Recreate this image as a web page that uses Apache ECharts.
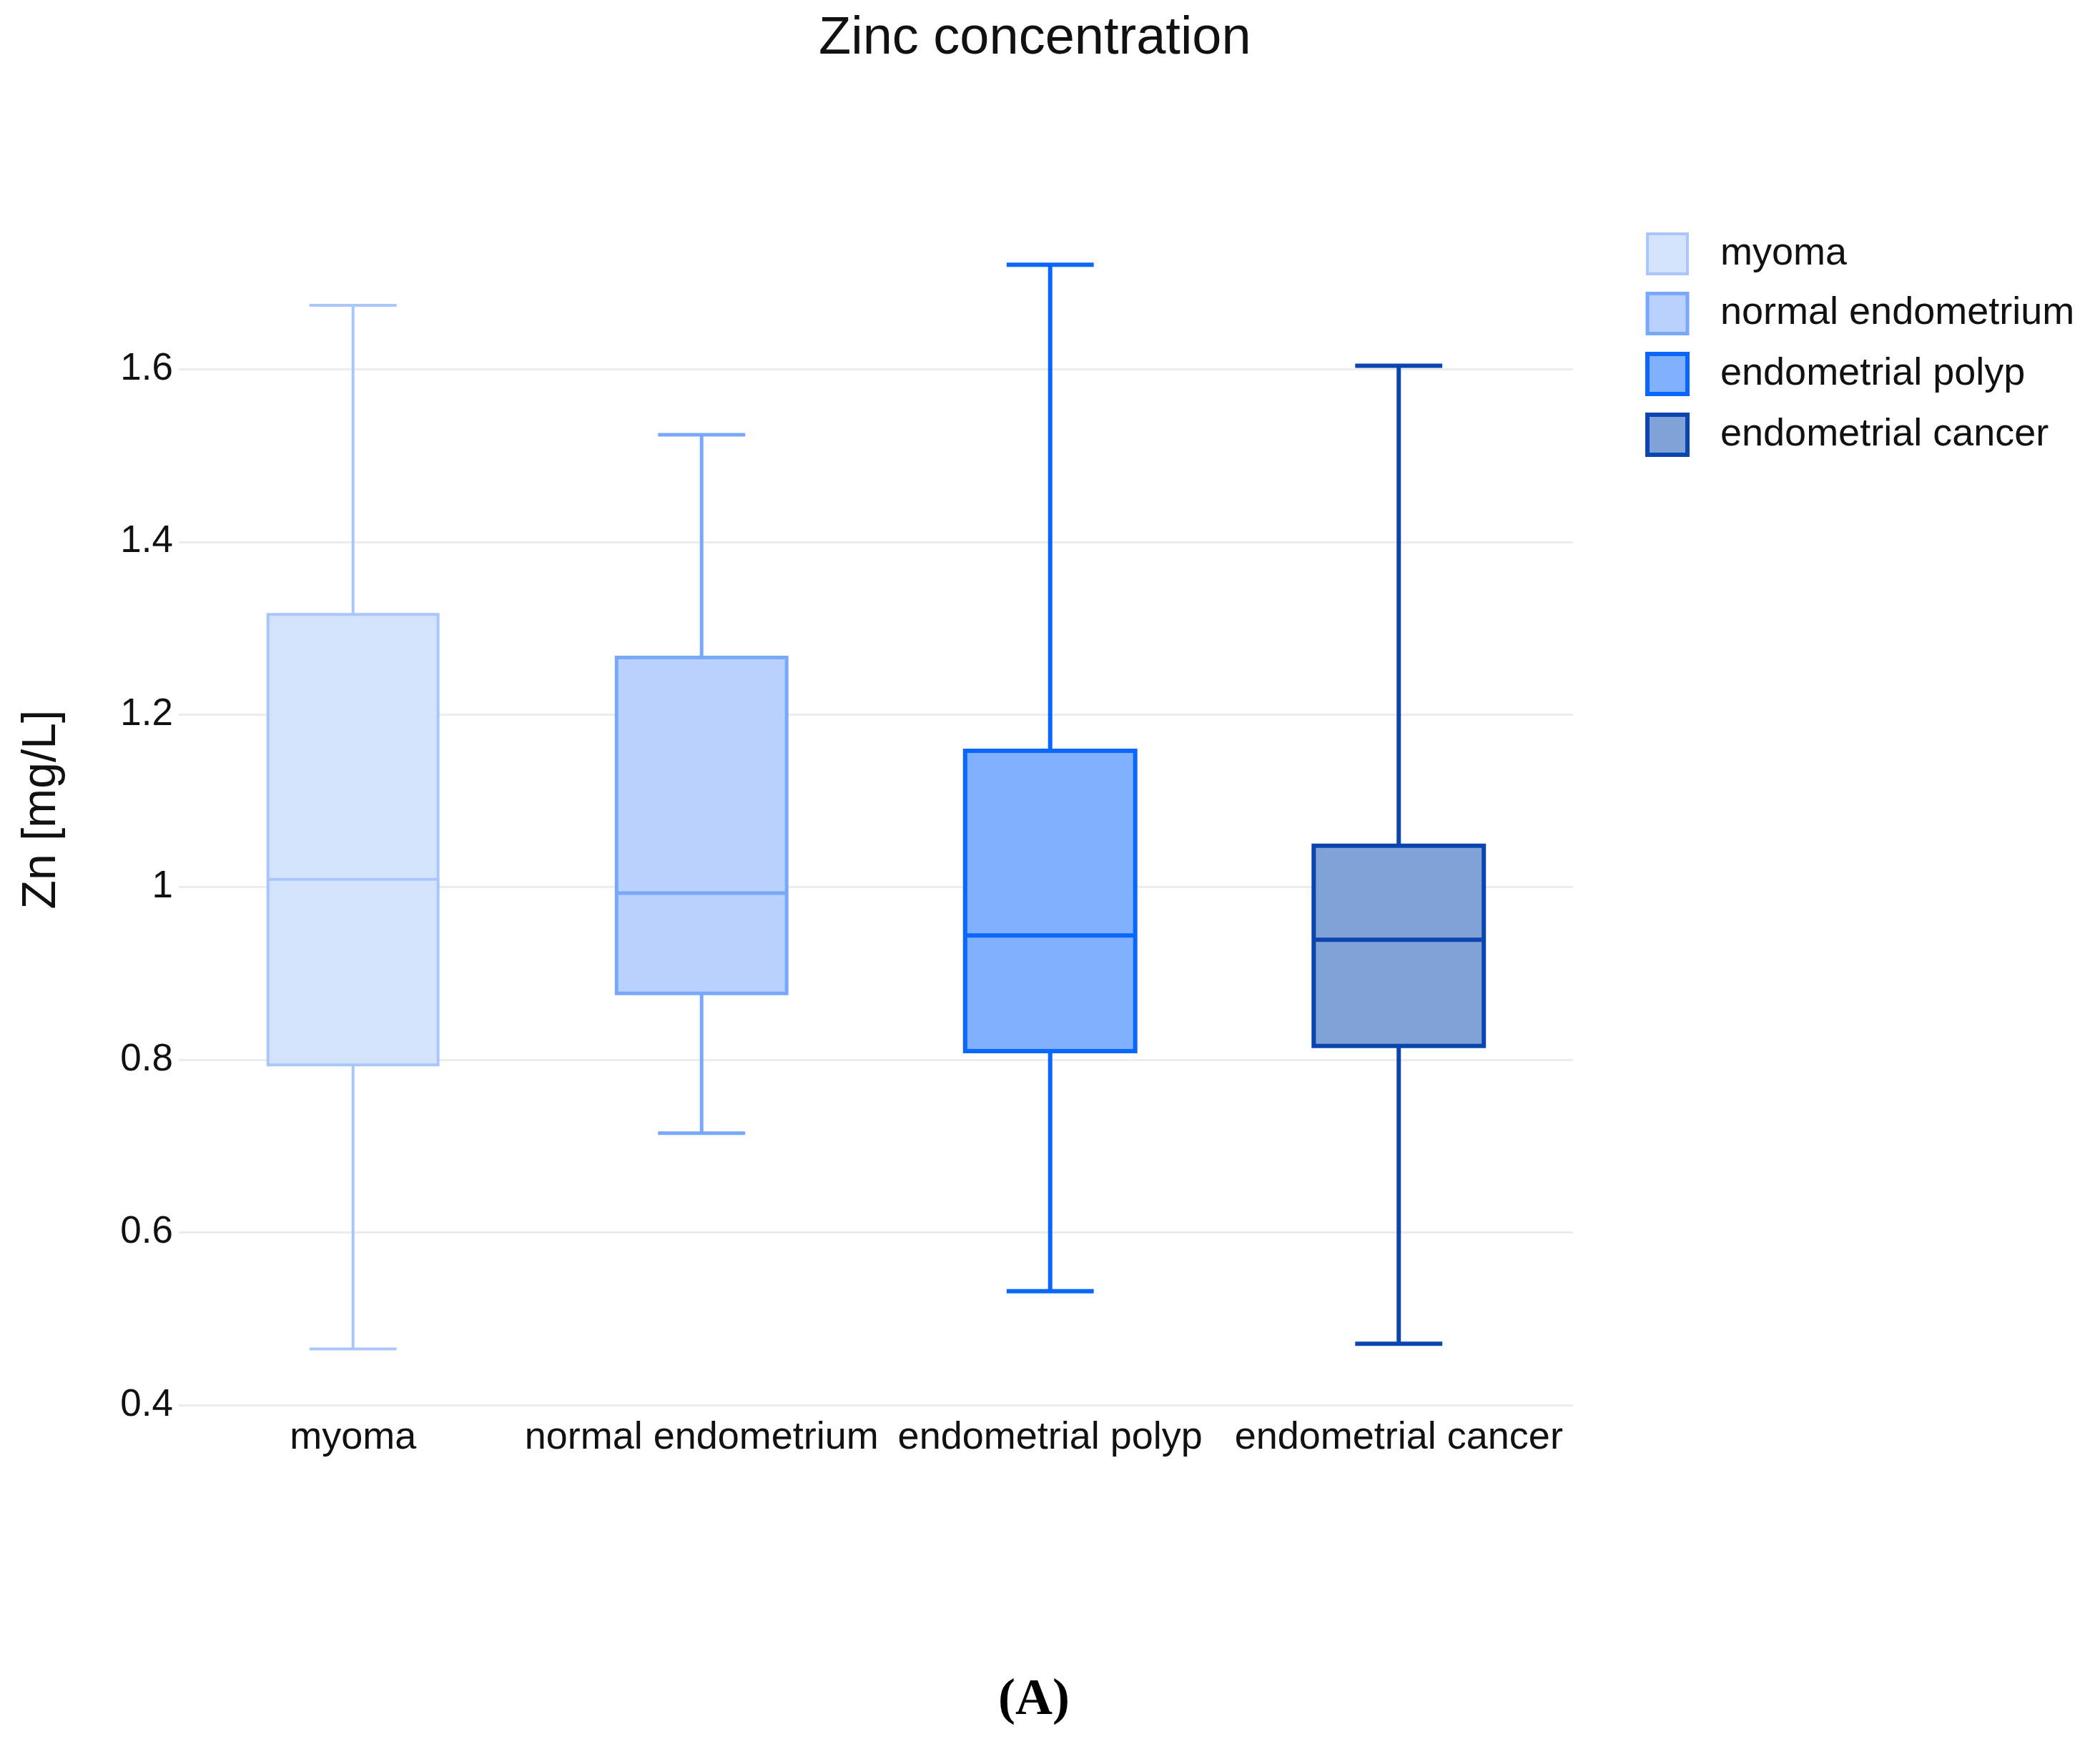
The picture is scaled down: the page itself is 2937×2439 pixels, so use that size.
<!DOCTYPE html>
<html lang="en">
<head>
	<meta charset="UTF-8">
	<title>Zinc concentration</title>
	<script type="text/javascript" src="https://cdn.jsdelivr.net/npm/echarts@6.0.0/dist/echarts.min.js"></script>
	<style>
		html, body { margin: 0; padding: 0; background: #fff; }
	</style>
</head>
<body>
	<div id="main" style="width: 2937px; height: 2439px;"></div>
	<script type="text/javascript">
		// groups shown on the x axis (also the legend)
		var categories = ['myoma', 'normal endometrium', 'endometrial polyp', 'endometrial cancer'];
		// whisker low, Q1, median, Q3, whisker high (mg/L)
		var lowValues = [0.465, 0.715, 0.532, 0.471];
		var q1Values = [0.794, 0.877, 0.810, 0.816];
		var medianValues = [1.009, 0.993, 0.944, 0.939];
		var q3Values = [1.316, 1.266, 1.158, 1.048];
		var highValues = [1.674, 1.524, 1.721, 1.604];
		var yTicks = [0.4, 0.6, 0.8, 1, 1.2, 1.4, 1.6];

		var fills = ['#d4e3fc', '#b9d1fc', '#80b0fd', '#80a2d6'];
		var strokes = ['#a8c6fb', '#78a8fa', '#0a66fc', '#0a45b0'];
		var widths = [4, 5, 6, 6];

		var font = '"Liberation Sans", Arial, sans-serif';
		var myChart = echarts.init(document.getElementById('main'));

		function makeRender(k) {
			return function (params, api) {
				var x = api.value(0);
				var lo = api.coord([x, api.value(1)]);
				var q1 = api.coord([x, api.value(2)]);
				var md = api.coord([x, api.value(3)]);
				var q3 = api.coord([x, api.value(4)]);
				var hi = api.coord([x, api.value(5)]);
				var band = api.size([1, 0])[0];
				var bw = band * 0.488;
				var cw = band * 0.25;
				var cx = lo[0];
				var ls = { stroke: strokes[k], lineWidth: widths[k] };
				return {
					type: 'group',
					children: [
						{ type: 'line', shape: { x1: cx, y1: hi[1], x2: cx, y2: q3[1] }, style: ls },
						{ type: 'line', shape: { x1: cx, y1: q1[1], x2: cx, y2: lo[1] }, style: ls },
						{ type: 'line', shape: { x1: cx - cw / 2, y1: hi[1], x2: cx + cw / 2, y2: hi[1] }, style: ls },
						{ type: 'line', shape: { x1: cx - cw / 2, y1: lo[1], x2: cx + cw / 2, y2: lo[1] }, style: ls },
						{
							type: 'rect',
							shape: { x: cx - bw / 2, y: q3[1], width: bw, height: q1[1] - q3[1] },
							style: { fill: fills[k], stroke: strokes[k], lineWidth: widths[k] }
						},
						{ type: 'line', shape: { x1: cx - bw / 2, y1: md[1], x2: cx + bw / 2, y2: md[1] }, style: ls }
					]
				};
			};
		}

		var series = categories.map(function (name, k) {
			return {
				name: name,
				type: 'custom',
				renderItem: makeRender(k),
				encode: { x: 0, y: [1, 2, 3, 4, 5] },
				itemStyle: { color: fills[k], borderColor: strokes[k], borderWidth: widths[k] },
				data: [[k, lowValues[k], q1Values[k], medianValues[k], q3Values[k], highValues[k]]]
			};
		});

		var option = {
			backgroundColor: '#ffffff',
			animation: false,
			title: {
				text: 'Zinc concentration',
				left: 1140,
				top: 13,
				textStyle: { fontFamily: font, fontSize: 74, fontWeight: 'normal', color: '#111' }
			},
			legend: {
				left: 2296,
				top: 320,
				orient: 'vertical',
				itemWidth: 56,
				itemHeight: 56,
				itemGap: 23,
				icon: 'rect',
				data: categories.map(function (name, k) {
					return {
						name: name,
						itemStyle: { color: fills[k], borderColor: strokes[k], borderWidth: widths[k] }
					};
				}),
				textStyle: { fontFamily: font, fontSize: 54, color: '#111', padding: [0, 0, 0, 41], lineHeight: 50 }
			},
			grid: { left: 250, right: 737, top: 299, bottom: 474, outerBoundsMode: 'none' },
			xAxis: {
				type: 'category',
				data: categories,
				axisLine: { show: false },
				axisTick: { show: false },
				splitLine: { show: false },
				axisLabel: { fontFamily: font, fontSize: 54, color: '#111', margin: 19, interval: 0 }
			},
			yAxis: {
				type: 'value',
				min: 0.4,
				max: 1.78,
				interval: 0.2,
				name: 'Zn [mg/L]',
				nameLocation: 'middle',
				nameGap: 158,
				nameTextStyle: { fontFamily: font, fontSize: 66, color: '#111' },
				axisLine: { show: false },
				axisTick: { show: false },
				axisLabel: {
					fontFamily: font,
					fontSize: 53,
					color: '#111',
					margin: 8,
					formatter: function (v) {
						for (var i = 0; i < yTicks.length; i++) {
							if (Math.abs(v - yTicks[i]) < 1e-6) return String(yTicks[i]);
						}
						return '';
					}
				},
				splitLine: { show: true, showMaxLine: false, lineStyle: { color: '#ececec', width: 3 } }
			},
			graphic: [{
				type: 'text',
				x: 1446,
				y: 2378,
				style: {
					text: '(A)',
					font: 'bold 72px "Liberation Serif", "Times New Roman", serif',
					fill: '#000',
					textAlign: 'center',
					textVerticalAlign: 'middle'
				}
			}],
			series: series
		};
		myChart.setOption(option);
	</script>
</body>
</html>
